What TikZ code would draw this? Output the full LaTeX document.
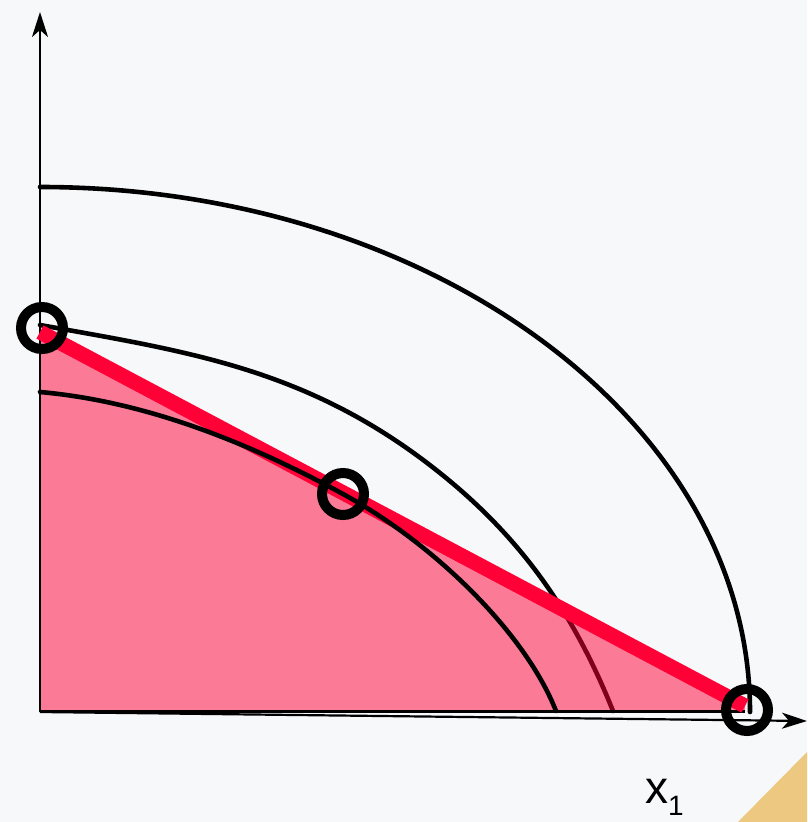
\documentclass[tikz,border=0pt]{standalone}
\usepackage{fontspec}
\setmainfont{Liberation Sans}
\usetikzlibrary{arrows.meta}
\definecolor{paper}{RGB}{247,248,249}
\definecolor{tri}{RGB}{237,200,128}
\definecolor{lred}{RGB}{255,0,55}
\tikzset{
  axisline/.style={line width=2.2pt, -{Stealth[length=25pt, width=16pt, inset=7pt]}},
  curveline/.style={line width=4.6pt, black, line cap=round},
  redline/.style={line width=15pt, lred},
  marker/.style={circle, draw=black, line width=10pt, minimum size=42pt, inner sep=0pt},
}
\begin{document}
\begin{tikzpicture}[x=1pt,y=-1pt]
\useasboundingbox (0,0) rectangle (807,822);
\fill[paper] (0,0) rectangle (807,822);
\fill[tri] (738,822) -- (807,822) -- (807,752) -- cycle;

\coordinate (O) at (40,712);
\coordinate (ytop) at (40,12);
\coordinate (xend) at (807,721);
\coordinate (r1) at (40,332);
\coordinate (r2) at (745,706);
\coordinate (b0) at (40,711);
\coordinate (b1) at (745,711);

% middle curve (lies under the transparent fill)
\draw[curveline] (40,325) .. controls (190,352) and (310,369) .. (440,473)
                 .. controls (520,537) and (573,611) .. (613,711);

% feasible region
\fill[lred, opacity=0.5] (r1) -- (r2) -- (b1) -- (b0) -- cycle;

% axes
\draw[axisline] (O) -- (ytop);
\draw[axisline] (O) -- (xend);
\draw[line width=3pt] (b0) -- (b1);

% outer curve
\draw[curveline] (40,187) arc[start angle=-90, end angle=0, x radius=710, y radius=525];

% budget line
\draw[redline] (r1) -- (r2);

% inner curve tangent to the budget line
\draw[curveline] (40,392) .. controls (141,401) and (242,439) .. (343,494)
                 .. controls (433,543) and (525,632) .. (556,711);

% markers
\node[marker] (m1) at (42,328) {};
\node[marker] (m2) at (343,494) {};
\node[marker] (m3) at (747,710) {};

\node[anchor=base west, inner sep=0pt] (lab) at (645,803)
  {\fontsize{46}{46}\selectfont x\raisebox{-12pt}{\fontsize{28}{28}\selectfont 1}};
\end{tikzpicture}
\end{document}
